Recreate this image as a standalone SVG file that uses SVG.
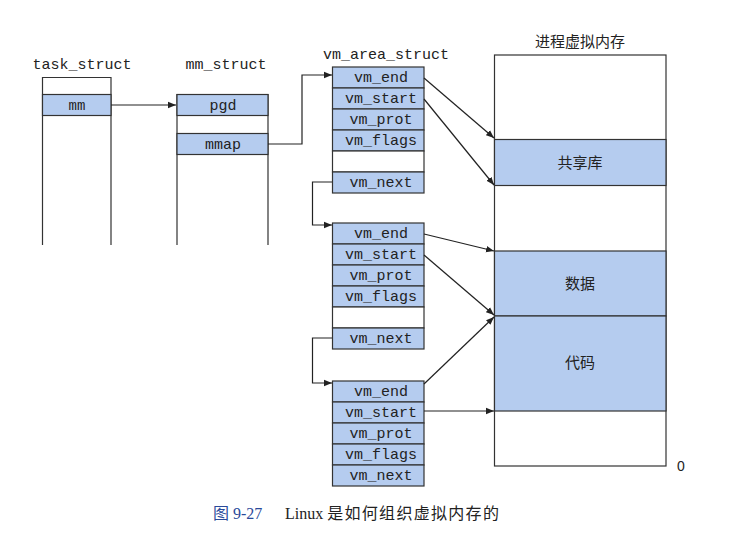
<svg xmlns="http://www.w3.org/2000/svg" width="730" height="538" viewBox="0 0 730 538">
<style>
.bg{fill:#ffffff}
.box{fill:#ffffff;stroke:#333333;stroke-width:1.2}
.fld{fill:#b5ccef;stroke:#333333;stroke-width:1.2}
.open{fill:none;stroke:#333333;stroke-width:1.2}
.mono{font-family:"Liberation Mono","DejaVu Sans Mono",monospace;font-size:15px;fill:#222222;text-anchor:middle}
.cjk{font-family:"Noto Sans CJK SC","Noto Sans",sans-serif;font-size:15px;fill:#222222;text-anchor:middle}
.zero{font-family:"Liberation Sans",sans-serif;font-size:14px;fill:#222222}
.cap{font-family:"Liberation Serif","Noto Sans CJK SC",serif;font-size:16px;fill:#222222}
.conn{fill:none;stroke:#222222;stroke-width:1.2}
</style>
<defs>
<marker id="ah" viewBox="0 0 10 10" refX="10" refY="5" markerWidth="8" markerHeight="8" markerUnits="userSpaceOnUse" orient="auto">
<path d="M0,1 L10,5 L0,9 z" fill="#222222"/>
</marker>
</defs>
<rect class="bg" x="0" y="0" width="730" height="538"/>

<g id="task_struct">
<text class="mono" x="82" y="69">task_struct</text>
<path class="open" d="M42.5,245 V77.5 H111 V245"/>
<rect class="fld" x="42.5" y="94.5" width="68.5" height="21"/>
<text class="mono" x="77" y="110" style="font-size:14px">mm</text>
</g>

<g id="mm_struct">
<text class="mono" x="226" y="69">mm_struct</text>
<path class="open" d="M177,245 V94.5 H268 V245"/>
<rect class="fld" x="177" y="94.5" width="91" height="21"/>
<text class="mono" x="223" y="110">pgd</text>
<rect class="fld" x="177" y="133.5" width="91" height="21"/>
<text class="mono" x="223" y="149">mmap</text>
</g>

<g id="vm_area_1">
<text class="mono" x="386" y="59">vm_area_struct</text>
<rect class="fld" x="332.5" y="67" width="91.5" height="21"/>
<text class="mono" x="381" y="82">vm_end</text>
<rect class="fld" x="332.5" y="88" width="91.5" height="21"/>
<text class="mono" x="381" y="103">vm_start</text>
<rect class="fld" x="332.5" y="109" width="91.5" height="21"/>
<text class="mono" x="381" y="124">vm_prot</text>
<rect class="fld" x="332.5" y="130" width="91.5" height="21"/>
<text class="mono" x="381" y="145">vm_flags</text>
<rect class="box" x="332.5" y="151" width="91.5" height="21"/>
<rect class="fld" x="332.5" y="172" width="91.5" height="21"/>
<text class="mono" x="381" y="187">vm_next</text>
</g>

<g id="vm_area_2">
<rect class="fld" x="332.5" y="223" width="91.5" height="21"/>
<text class="mono" x="381" y="238">vm_end</text>
<rect class="fld" x="332.5" y="244" width="91.5" height="21"/>
<text class="mono" x="381" y="259">vm_start</text>
<rect class="fld" x="332.5" y="265" width="91.5" height="21"/>
<text class="mono" x="381" y="280">vm_prot</text>
<rect class="fld" x="332.5" y="286" width="91.5" height="21"/>
<text class="mono" x="381" y="301">vm_flags</text>
<rect class="box" x="332.5" y="307" width="91.5" height="21"/>
<rect class="fld" x="332.5" y="328" width="91.5" height="21"/>
<text class="mono" x="381" y="343">vm_next</text>
</g>

<g id="vm_area_3">
<rect class="fld" x="332.5" y="381" width="91.5" height="21"/>
<text class="mono" x="381" y="396">vm_end</text>
<rect class="fld" x="332.5" y="402" width="91.5" height="21"/>
<text class="mono" x="381" y="417">vm_start</text>
<rect class="fld" x="332.5" y="423" width="91.5" height="21"/>
<text class="mono" x="381" y="438">vm_prot</text>
<rect class="fld" x="332.5" y="444" width="91.5" height="21"/>
<text class="mono" x="381" y="459">vm_flags</text>
<rect class="fld" x="332.5" y="465" width="91.5" height="21"/>
<text class="mono" x="381" y="480">vm_next</text>
</g>

<g id="virtual_memory">
<text class="cjk" x="580" y="47">进程虚拟内存</text>
<rect class="box" x="494.5" y="55" width="171.5" height="411"/>
<rect class="fld" x="494.5" y="139.5" width="171.5" height="46"/>
<text class="cjk" x="580" y="168">共享库</text>
<rect class="fld" x="494.5" y="251" width="171.5" height="65"/>
<text class="cjk" x="580" y="289">数据</text>
<rect class="fld" x="494.5" y="316" width="171.5" height="95"/>
<text class="cjk" x="580" y="368">代码</text>
<text class="zero" x="677" y="471">0</text>
</g>

<g id="connectors">
<path class="conn" marker-end="url(#ah)" d="M111,105 H176"/>
<path class="conn" marker-end="url(#ah)" d="M268,144 H302 V75 H332"/>
<path class="conn" marker-end="url(#ah)" d="M332,182 H312.5 V225 H332"/>
<path class="conn" marker-end="url(#ah)" d="M332,338 H312.5 V383 H332"/>
<path class="conn" marker-end="url(#ah)" d="M424,78 L494,138"/>
<path class="conn" marker-end="url(#ah)" d="M424,99 L494,185"/>
<path class="conn" marker-end="url(#ah)" d="M424,234 L494,251"/>
<path class="conn" marker-end="url(#ah)" d="M424,255 L494,315"/>
<path class="conn" marker-end="url(#ah)" d="M424,384 L494,317"/>
<path class="conn" marker-end="url(#ah)" d="M424,411 H494"/>
</g>

<g id="caption">
<text class="cap" x="213" y="519"><tspan style="fill:#2a4a9a;font-family:'Noto Sans CJK SC',sans-serif">图</tspan><tspan fill="#2a4a9a"> 9-27</tspan></text>
<text class="cap" x="285" y="519">Linux <tspan style="font-family:'Noto Sans CJK SC',serif;letter-spacing:1.3px">是如何组织虚拟内存的</tspan></text>
</g>
</svg>
